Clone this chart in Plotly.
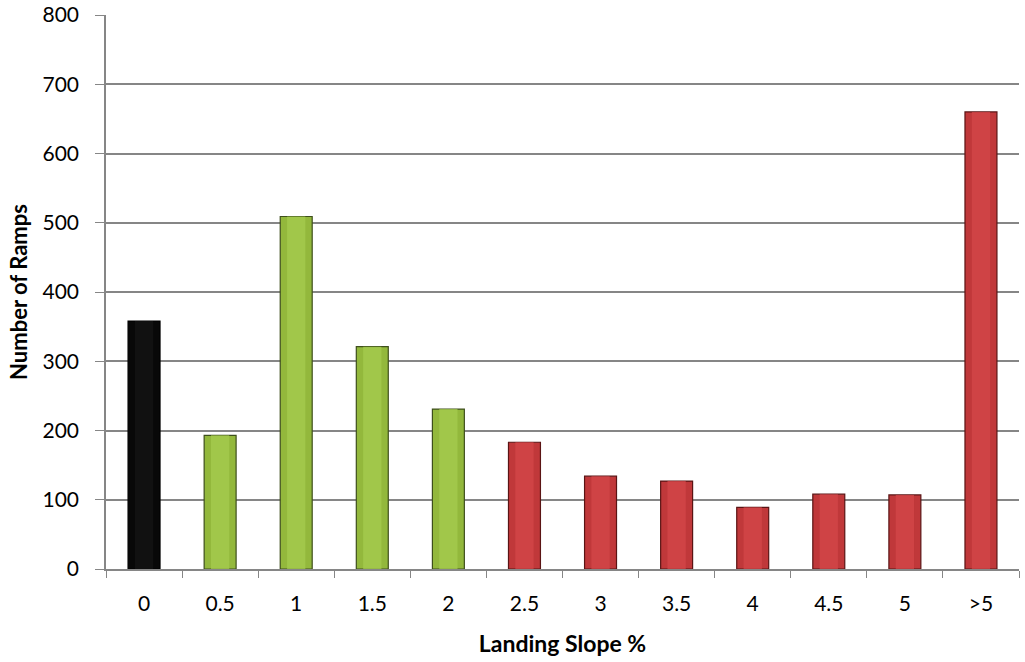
import plotly.graph_objects as go

# Landing slope distribution of ramps
categories = ["0", "0.5", "1", "1.5", "2", "2.5", "3", "3.5", "4", "4.5", "5", ">5"]
ramp_counts = [358, 193, 509, 321, 231, 183, 134, 127, 89, 108, 107, 660]
slope_group = ["flat", "ok", "ok", "ok", "ok", "steep", "steep", "steep",
               "steep", "steep", "steep", "steep"]

fill = {"flat": "#080808", "ok": "#93b83c", "steep": "#c0383a"}
edge = {"flat": "#000000", "ok": "#3e4f1c", "steep": "#5a1414"}
shine = {"flat": "#141414", "ok": "#a6cc4f", "steep": "#d4474a"}

fills = [fill[g] for g in slope_group]
edges = [edge[g] for g in slope_group]
shines = [shine[g] for g in slope_group]

fig = go.Figure()
fig.add_trace(go.Bar(
    x=categories, y=ramp_counts, width=0.42,
    marker=dict(color=fills, line=dict(color=edges, width=1.2)),
    hoverinfo="x+y", showlegend=False,
))
# lighter centre strip for a rounded look
fig.add_trace(go.Bar(
    x=categories, y=ramp_counts, width=0.24,
    marker=dict(color=shines, line=dict(width=0), opacity=0.75),
    hoverinfo="skip", showlegend=False,
))

font_family = "Lato, 'Open Sans', sans-serif"
fig.update_layout(
    width=1025, height=662,
    barmode="overlay",
    plot_bgcolor="white", paper_bgcolor="white",
    margin=dict(l=106, r=6, t=15, b=93),
    font=dict(family=font_family, size=22, color="#000000"),
    xaxis=dict(
        type="category", automargin=False,
        showline=True, linecolor="#868686", linewidth=1.5,
        ticks="outside", tickson="boundaries", ticklen=7, tickcolor="#868686",
        tickfont=dict(size=21), ticklabelstandoff=15,
        title=dict(text="<b>Landing Slope %</b>", font=dict(size=23), standoff=22),
        showgrid=False,
    ),
    yaxis=dict(
        range=[0, 800], dtick=100, automargin=False,
        showline=True, linecolor="#868686", linewidth=1.5,
        ticks="outside", ticklen=9, tickcolor="#868686",
        showgrid=True, gridcolor="#868686", gridwidth=1.5,
        tickfont=dict(size=21), ticklabelstandoff=12,
        title=dict(text="<b>Number of Ramps</b>", font=dict(size=22), standoff=9),
        zeroline=False,
    ),
)

fig.write_html("out.html")
